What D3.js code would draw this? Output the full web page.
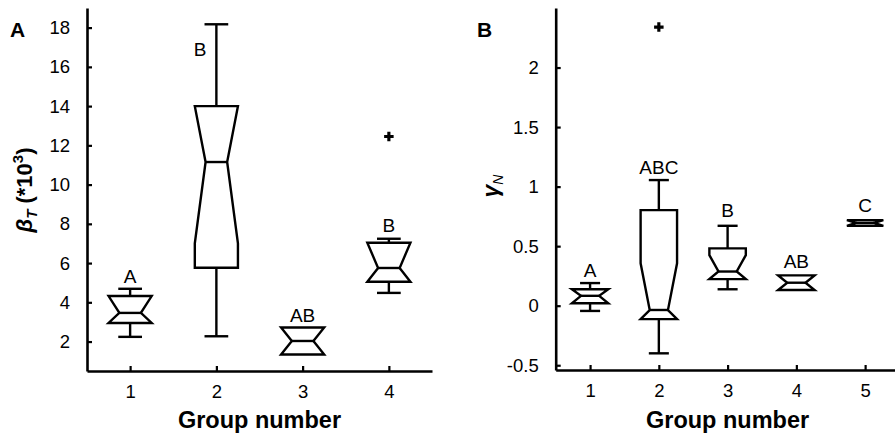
<!DOCTYPE html>
<html>
<head>
<meta charset="utf-8">
<script src="https://cdn.jsdelivr.net/npm/d3@7"></script>
<style>
  html, body { margin: 0; padding: 0; background: #fff; }
  svg { display: block; font-family: "Liberation Sans", Arial, sans-serif; }
</style>
</head>
<body>
<svg id="chart" width="895" height="433"></svg>
<script>
// Panel A: beta_T (*10^3) per group
const groupsA = [1, 2, 3, 4];
const lettersA = ["A", "B", "AB", "B"];
const letterAtA = [4.97, 16.55, 2.99, 7.59];
const whiskerLoA = [2.24, 2.27, 1.34, 4.48];
const q1A = [2.95, 5.76, 1.34, 5.05];
const notchLoA = [2.95, 7.01, 1.34, 5.05];
const medianA = [3.46, 11.15, 2.03, 5.75];
const notchHiA = [4.32, 14.0, 2.72, 7.04];
const q3A = [4.32, 14.0, 2.72, 7.04];
const whiskerHiA = [4.69, 18.17, 2.72, 7.24];
const outlierGroupA = [4];
const outlierValueA = [12.45];
const yTicksA = [2, 4, 6, 8, 10, 12, 14, 16, 18];

// Panel B: gamma_N per group
const groupsB = [1, 2, 3, 4, 5];
const lettersB = ["A", "ABC", "B", "AB", "C"];
const letterAtB = [0.243, 1.11, 0.747, 0.314, 0.789];
const whiskerLoB = [-0.044, -0.40, 0.138, 0.132, 0.671];
const q1B = [0.02, -0.113, 0.223, 0.132, 0.671];
const notchLoB = [0.02, -0.113, 0.223, 0.132, 0.671];
const medianB = [0.083, -0.036, 0.287, 0.193, 0.696];
const notchHiB = [0.138, 0.356, 0.425, 0.255, 0.719];
const q3B = [0.138, 0.803, 0.481, 0.255, 0.719];
const whiskerHiB = [0.19, 1.055, 0.671, 0.255, 0.719];
const outlierGroupB = [2];
const outlierValueB = [2.34];
const yTicksB = [-0.5, 0, 0.5, 1, 1.5, 2];

const svg = d3.select("#chart");

function panel(cfg) {
  const g = svg.append("g");
  const x = d3.scaleLinear().domain(cfg.xDomain).range(cfg.xRange);
  const y = d3.scaleLinear().domain(cfg.yDomain).range(cfg.yRange);
  const unit = x(1) - x(0);
  const boxHalf = unit * cfg.boxWidth / 2;
  const notchHalf = boxHalf * 0.5;
  const capHalf = boxHalf * 0.55;

  // axes with inward ticks
  const xAxis = d3.axisBottom(x).tickValues(cfg.groups).tickFormat(d => String(d))
    .tickSizeInner(-5).tickSizeOuter(0).tickPadding(14);
  const yAxis = d3.axisLeft(y).tickValues(cfg.yTicks).tickFormat(d => String(d))
    .tickSizeInner(-5).tickSizeOuter(0).tickPadding(17);

  const gx = g.append("g").attr("transform", `translate(0,${cfg.yRange[0]})`).call(xAxis);
  const gy = g.append("g").attr("transform", `translate(${cfg.xRange[0]},0)`).call(yAxis);
  [gx, gy].forEach(a => {
    a.select(".domain").attr("stroke", "#000").attr("stroke-width", 2.6);
    a.selectAll(".tick line").attr("stroke", "#000").attr("stroke-width", 2.2);
    a.selectAll(".tick text").attr("fill", "#000")
      .style("font-size", "18.5px").style("font-family", "Liberation Sans, Arial, sans-serif");
  });

  const data = cfg.groups.map((grp, i) => ({
    grp, wlo: cfg.wlo[i], q1: cfg.q1[i], nlo: cfg.nlo[i], med: cfg.med[i],
    nhi: cfg.nhi[i], q3: cfg.q3[i], whi: cfg.whi[i], letter: cfg.letters[i], la: cfg.letterAt[i]
  }));

  const marks = g.append("g").attr("fill", "none").attr("stroke", "#000").attr("stroke-width", 2.4);

  data.forEach(d => {
    const cx = x(d.grp);
    // whiskers
    if (d.whi > d.q3) {
      marks.append("line").attr("x1", cx).attr("x2", cx).attr("y1", y(d.q3)).attr("y2", y(d.whi));
      marks.append("line").attr("x1", cx - capHalf).attr("x2", cx + capHalf).attr("y1", y(d.whi)).attr("y2", y(d.whi));
    }
    if (d.wlo < d.q1) {
      marks.append("line").attr("x1", cx).attr("x2", cx).attr("y1", y(d.q1)).attr("y2", y(d.wlo));
      marks.append("line").attr("x1", cx - capHalf).attr("x2", cx + capHalf).attr("y1", y(d.wlo)).attr("y2", y(d.wlo));
    }
    // notched box
    const L = cx - boxHalf, R = cx + boxHalf;
    const pts = [
      [L, y(d.q3)], [R, y(d.q3)], [R, y(d.nhi)], [cx + notchHalf, y(d.med)],
      [R, y(d.nlo)], [R, y(d.q1)], [L, y(d.q1)], [L, y(d.nlo)],
      [cx - notchHalf, y(d.med)], [L, y(d.nhi)]
    ];
    marks.append("path").attr("d", d3.line()(pts) + "Z").attr("stroke-linejoin", "miter");
    // median
    marks.append("line").attr("x1", cx - notchHalf).attr("x2", cx + notchHalf)
      .attr("y1", y(d.med)).attr("y2", y(d.med));
    // significance letters; a letter that sits beside the upper whisker moves to its left
    const beside = d.la < d.whi && d.la > d.q3;
    g.append("text").attr("x", beside ? cx - 10 : cx).attr("y", y(d.la))
      .attr("text-anchor", beside ? "end" : "middle")
      .style("font-size", "19px").attr("fill", "#000").text(d.letter);
  });

  // outliers
  cfg.outGroups.forEach((grp, i) => {
    g.append("path").attr("d", d3.symbol(d3.symbolCross, 50)())
      .attr("transform", `translate(${x(grp)},${y(cfg.outValues[i])})`).attr("fill", "#000");
  });

  // x title
  g.append("text").attr("x", (cfg.xRange[0] + cfg.xRange[1]) / 2).attr("y", 428)
    .attr("text-anchor", "middle").style("font-size", "23.5px").style("font-weight", "bold")
    .text("Group number");

  // panel tag
  g.append("text").attr("x", cfg.tagX).attr("y", 37).style("font-size", "21px")
    .style("font-weight", "bold").text(cfg.tag);
  return g;
}

const gA = panel({
  groups: groupsA, letters: lettersA, letterAt: letterAtA,
  wlo: whiskerLoA, q1: q1A, nlo: notchLoA, med: medianA, nhi: notchHiA, q3: q3A, whi: whiskerHiA,
  outGroups: outlierGroupA, outValues: outlierValueA, yTicks: yTicksA,
  xDomain: [0.5, 4.5], xRange: [87, 432], yDomain: [0.5, 19], yRange: [371, 8],
  boxWidth: 0.5, tag: "A", tagX: 10
});

const gB = panel({
  groups: groupsB, letters: lettersB, letterAt: letterAtB,
  wlo: whiskerLoB, q1: q1B, nlo: notchLoB, med: medianB, nhi: notchHiB, q3: q3B, whi: whiskerHiB,
  outGroups: outlierGroupB, outValues: outlierValueB, yTicks: yTicksB,
  xDomain: [0.5, 5.5], xRange: [555.7, 899.5], yDomain: [-0.54, 2.5], yRange: [370, 8],
  boxWidth: 0.53, tag: "B", tagX: 477
});

// y titles
const tA = gA.append("text").attr("transform", "translate(32,190) rotate(-90)")
  .attr("text-anchor", "middle").style("font-size", "22px").style("font-weight", "bold");
tA.append("tspan").style("font-style", "italic").text("β");
tA.append("tspan").attr("dy", 5).style("font-size", "15px").style("font-style", "italic").text("T");
tA.append("tspan").attr("dy", -5).text(" (*10");
tA.append("tspan").attr("dy", -9).style("font-size", "15px").text("3");
tA.append("tspan").attr("dy", 9).text(")");

const tB = gB.append("text").attr("transform", "translate(498,186) rotate(-90)")
  .attr("text-anchor", "middle").style("font-size", "23px").style("font-style", "italic")
  .style("font-weight", "bold");
tB.append("tspan").text("γ");
tB.append("tspan").attr("dy", 5).style("font-size", "14px").style("font-weight", "normal").text("N");
</script>
</body>
</html>
